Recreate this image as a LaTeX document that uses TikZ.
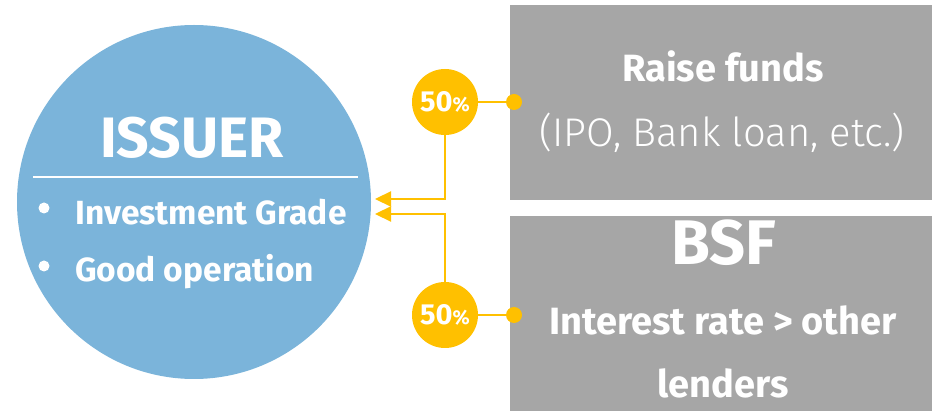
\documentclass[tikz,border=0pt]{standalone}
\usepackage{fontspec}
\setmainfont{Fira Sans}
\newfontfamily\lightfont{Fira Sans Light}
\usetikzlibrary{arrows.meta,positioning}
\definecolor{skyblue}{RGB}{123,180,218}
\definecolor{amber}{RGB}{255,192,0}
\definecolor{slate}{RGB}{166,166,166}
\newcommand{\fsz}[1]{\fontsize{#1}{#1}\selectfont}
\tikzset{
  panel/.style={fill=slate,draw=none,anchor=north west,inner sep=0pt,minimum width=422pt},
  share/.style={circle,fill=amber,minimum size=66pt,inner sep=0pt,text=white,font=\bfseries\fsz{29}},
  knob/.style={circle,fill=amber,minimum size=16pt,inner sep=0pt},
  dot/.style={circle,fill=white,minimum size=11pt,inner sep=0pt},
  txt/.style={text=white,anchor=base,inner sep=0pt},
  link/.style={draw=amber,line width=2.2pt},
  flow/.style={link,-{Triangle[length=16pt,width=15pt]}}
}

\begin{document}
\begin{tikzpicture}[x=1pt,y=-1pt]
  \useasboundingbox (0,0) rectangle (932,411);
  % issuer side
  \node[circle,fill=skyblue,minimum size=354pt,inner sep=0pt] (issuer) at (194,202) {};
  \node[txt,font=\bfseries\fsz{57}] (title) at (192,158) {ISSUER};
  \draw[white,line width=1.6pt] (33,177) coordinate (rulel) -- (358,177) coordinate (ruler);
  \node[dot] (bula) at (44,208) {};
  \node[dot] (bulb) at (44,266) {};
  \node[txt,anchor=base west,font=\bfseries\fsz{33.5}] (grade) at (75,225) {Investment Grade};
  \node[txt,anchor=base west,font=\bfseries\fsz{33.5}] (oper) at (75,282) {Good operation};
  % funding sources
  \node[panel,minimum height=195pt] (funds) at (510,5) {};
  \node[panel,minimum height=195pt] (bsf) at (510,216) {};
  \node[txt,font=\bfseries\fsz{38}] (fundsa) at (723,82) {Raise funds};
  \node[txt,font=\lightfont\fsz{40}] (fundsb) at (722,147) {(IPO, Bank loan, etc.)};
  \node[txt,font=\bfseries\fsz{63}] (bsfa) at (724,265) {BSF};
  \node[txt,font=\bfseries\fsz{38}] (bsfb) at (723,335) {Interest rate > other};
  \node[txt,font=\bfseries\fsz{38}] (bsfc) at (723,398) {lenders};
  % shares
  \node[share] (pcta) at (445,102) {50{\fsz{20}\%}};
  \node[share] (pctb) at (445,315) {50{\fsz{20}\%}};
  \node[knob] (knoba) at (514,102) {};
  \node[knob] (knobb) at (514,315) {};
  \coordinate (tipa) at (375,199);
  \coordinate (tipb) at (375,214);
  \draw[link] (pcta) -- (knoba);
  \draw[link] (pctb) -- (knobb);
  \draw[flow] (pcta.south) |- (tipa);
  \draw[flow] (pctb.north) |- (tipb);
\end{tikzpicture}
\end{document}
